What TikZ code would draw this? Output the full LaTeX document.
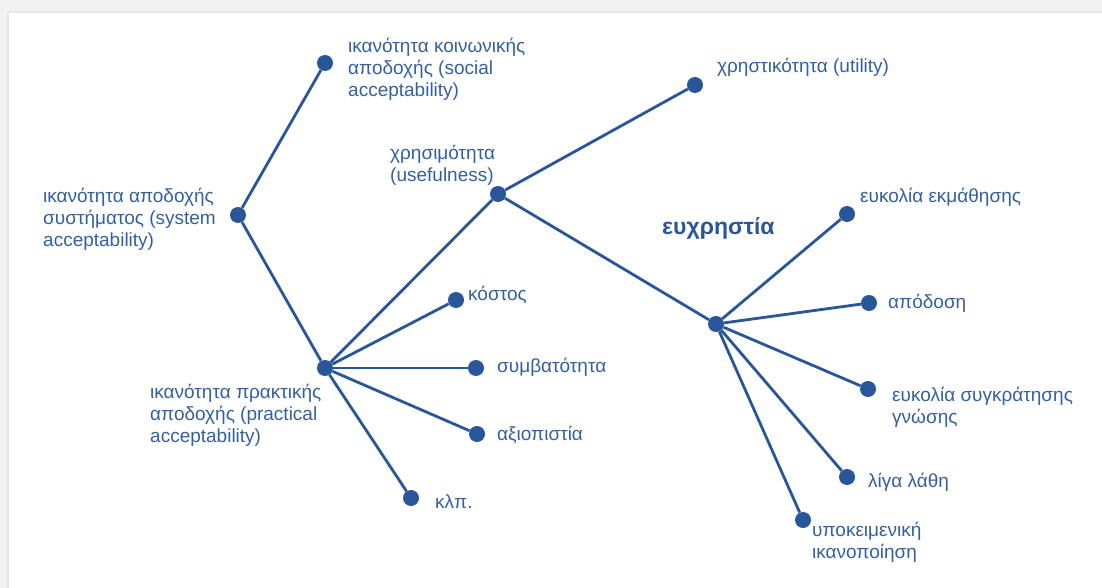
\documentclass[tikz,border=0pt]{standalone}
\usepackage{fontspec}
\setmainfont{Liberation Sans}
\definecolor{inkblue}{RGB}{40,86,153}
\definecolor{txtblue}{RGB}{52,96,162}
\definecolor{framegray}{RGB}{242,242,242}
\definecolor{edgegray}{RGB}{230,230,230}
\begin{document}
\begin{tikzpicture}[x=1pt,y=-1pt,
  dot/.style={circle,fill=inkblue,inner sep=0pt,minimum size=16pt},
  link/.style={draw=inkblue,line width=2.8pt},
  lbl/.style={text=txtblue,inner sep=0pt,align=left,anchor=base west,
    font=\fontsize{19}{22}\selectfont},
  title/.style={text=inkblue,inner sep=0pt,anchor=base west,
    font=\fontsize{23}{26}\selectfont\bfseries}]
  % page and window frame
  \useasboundingbox (0,0) rectangle (1102,588);
  \fill[white] (0,0) rectangle (1102,588);
  \fill[framegray] (0,0) rectangle (1102,12);
  \fill[framegray] (0,0) rectangle (8,588);
  \draw[edgegray,line width=2pt] (8,12) -- (1102,12);
  \draw[edgegray,line width=2pt] (8,12) -- (8,588);

  % branching points and leaves
  \node[dot] (sys)    at (238,215) {};
  \node[dot] (social) at (325,63)  {};
  \node[dot] (prac)   at (325,368) {};
  \node[dot] (useful) at (498,194) {};
  \node[dot] (util)   at (695,85)  {};
  \node[dot] (usab)   at (716,324) {};
  \node[dot] (cost)   at (456,300) {};
  \node[dot] (compat) at (476,368) {};
  \node[dot] (relia)  at (477,434) {};
  \node[dot] (etc)    at (411,498) {};
  \node[dot] (learn)  at (847,214) {};
  \node[dot] (perf)   at (869,303) {};
  \node[dot] (memo)   at (868,389) {};
  \node[dot] (errs)   at (847,477) {};
  \node[dot] (satis)  at (803,520) {};

  % connectors
  \draw[link] (sys) -- (social);
  \draw[link] (sys) -- (prac);
  \draw[link] (prac) -- (useful);
  \draw[link] (prac) -- (cost);
  \draw[link] (prac) -- (compat);
  \draw[link] (prac) -- (relia);
  \draw[link] (prac) -- (etc);
  \draw[link] (useful) -- (util);
  \draw[link] (useful) -- (usab);
  \draw[link] (usab) -- (learn);
  \draw[link] (usab) -- (perf);
  \draw[link] (usab) -- (memo);
  \draw[link] (usab) -- (errs);
  \draw[link] (usab) -- (satis);

  % labels (base anchor = baseline of the last line)
  \node[lbl] (socialL) at (348,97)  {ικανότητα κοινωνικής\\αποδοχής (social\\acceptability)};
  \node[lbl] (sysL)    at (43,246)  {ικανότητα αποδοχής\\συστήματος (system\\acceptability)};
  \node[lbl] (usefulL) at (390,182) {χρησιμότητα\\(usefulness)};
  \node[lbl] (utilL)   at (717,73)  {χρηστικότητα (utility)};
  \node[title] (usabL) at (662,234) {ευχρηστία};
  \node[lbl] (learnL)  at (860,203) {ευκολία εκμάθησης};
  \node[lbl] (perfL)   at (888,308) {απόδοση};
  \node[lbl] (memoL)   at (892,423) {ευκολία συγκράτησης\\γνώσης};
  \node[lbl] (errsL)   at (868,487) {λίγα λάθη};
  \node[lbl] (satisL)  at (812,558) {υποκειμενική\\ικανοποίηση};
  \node[lbl] (costL)   at (468,300) {κόστος};
  \node[lbl] (compatL) at (497,372) {συμβατότητα};
  \node[lbl] (reliaL)  at (497,440) {αξιοπιστία};
  \node[lbl] (etcL)    at (435,508) {κλπ.};
  \node[lbl] (pracL)   at (150,442) {ικανότητα πρακτικής\\αποδοχής (practical\\acceptability)};
\end{tikzpicture}
\end{document}
